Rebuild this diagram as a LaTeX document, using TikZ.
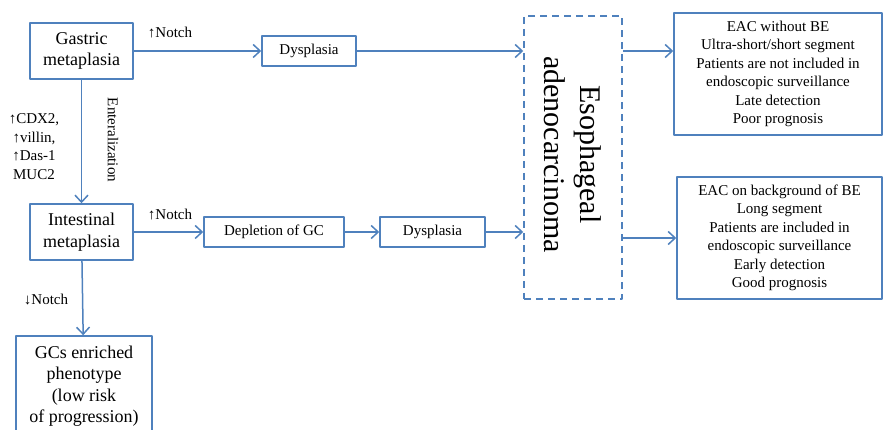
\documentclass[tikz,border=0pt]{standalone}
\usepackage{fontspec}
\setmainfont{Liberation Serif}
\usetikzlibrary{arrows.meta,positioning}
\definecolor{boxblue}{RGB}{79,129,189}
\tikzset{
  box/.style={draw=boxblue, line width=1.5bp, align=center, inner sep=0pt},
  dashbox/.style={box, dash pattern=on 7bp off 5bp},
  bigtxt/.style={font=\fontsize{18bp}{21.5bp}\selectfont},
  smalltxt/.style={font=\fontsize{15bp}{18.5bp}\selectfont},
  link/.style={->, draw=boxblue, line width=1.5bp},
}

\begin{document}
\begin{tikzpicture}[>={Straight Barb[length=7bp,width=13bp]},line join=bevel]
  \useasboundingbox (0bp,0bp) rectangle (883bp,430bp);
  %%
  % Node: gastric
  \node[box,bigtxt,minimum width=103bp,minimum height=56bp] (gastric) at (81.5bp,379bp) {Gastric\\metaplasia};
  % Node: intestinal
  \node[box,bigtxt,minimum width=103bp,minimum height=56bp] (intestinal) at (81.5bp,198bp) {Intestinal\\metaplasia};
  % Node: gcs
  \node[box,bigtxt,minimum width=136bp,minimum height=100bp] (gcs) at (84bp,44bp) {GCs enriched\\phenotype\\(low risk\\of progression)};
  % Node: dys1
  \node[box,smalltxt,minimum width=94bp,minimum height=30bp] (dys1) at (309bp,379bp) {Dysplasia};
  % Node: depletion
  \node[box,smalltxt,minimum width=140bp,minimum height=30bp] (depletion) at (274bp,198bp) {Depletion of GC};
  % Node: dys2
  \node[box,smalltxt,minimum width=105bp,minimum height=30bp] (dys2) at (432.5bp,198bp) {Dysplasia};
  % Node: eac
  \node[dashbox,minimum width=98bp,minimum height=283bp,
        label={[rotate=-90,align=center,font=\fontsize{30bp}{36bp}\selectfont,xshift=-3bp]center:Esophageal\\adenocarcinoma}]
        (eac) at (573bp,272.5bp) {};
  % Node: nobe
  \node[box,smalltxt,minimum width=208bp,minimum height=122bp] (nobe) at (778bp,356bp)
        {EAC without BE\\Ultra-short/short segment\\Patients are not included in\\endoscopic surveillance\\Late detection\\Poor prognosis};
  % Node: withbe
  \node[box,smalltxt,minimum width=205bp,minimum height=122bp] (withbe) at (779.5bp,192bp)
        {EAC on background of BE\\Long segment\\Patients are included in\\endoscopic surveillance\\Early detection\\Good prognosis};
  %%
  % Edge: gastric -> dys1
  \draw[link] (gastric) -- (dys1);
  \node[smalltxt] (notchup1) at (170bp,397bp) {↑Notch};
  % Edge: dys1 -> eac
  \draw[link] (dys1.east) -- (dys1.east -| eac.west);
  % Edge: gastric -> intestinal
  \draw[link] (gastric) -- (intestinal);
  \node[smalltxt,rotate=-90] (enteral) at (113bp,290bp) {Enteralization};
  \node[smalltxt,align=center] (markers) at (34bp,283.5bp) {↑CDX2,\\↑villin,\\↑Das-1\\MUC2};
  % Edge: intestinal -> depletion
  \draw[link] (intestinal) -- (depletion);
  \node[smalltxt] (notchup2) at (170bp,215bp) {↑Notch};
  % Edge: depletion -> dys2
  \draw[link] (depletion) -- (dys2);
  % Edge: dys2 -> eac
  \draw[link] (dys2.east) -- (dys2.east -| eac.west);
  % Edge: intestinal -> gcs
  \draw[link] (intestinal) -- (gcs);
  \node[smalltxt] (notchdown) at (46bp,130bp) {↓Notch};
  % Edge: eac -> nobe
  \draw[link] (dys1.east -| eac.east) -- (dys1.east -| nobe.west);
  % Edge: eac -> withbe
  \draw[link] (withbe.west -| eac.east) -- (withbe.west);
  %
\end{tikzpicture}
\end{document}
